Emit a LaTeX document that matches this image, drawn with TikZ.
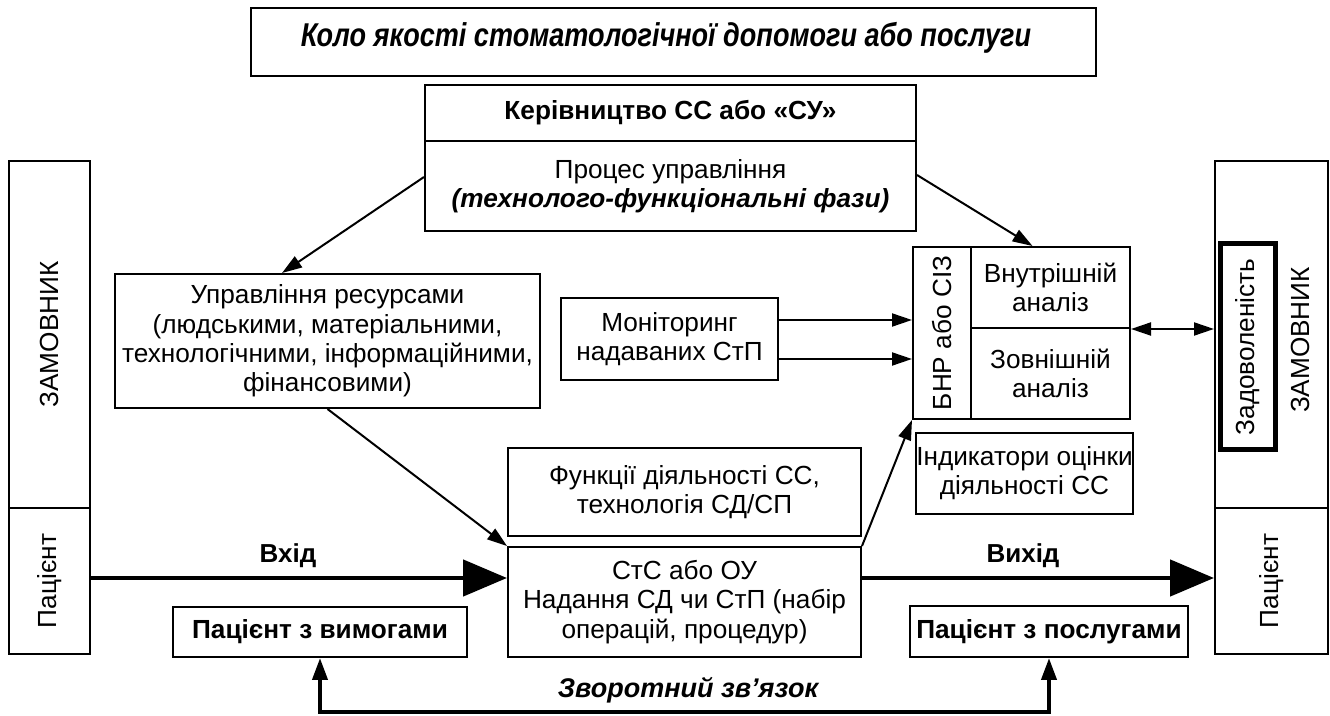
\documentclass[tikz,border=0pt]{standalone}
\usepackage{fontspec}
\setmainfont{Liberation Sans}
\newfontfamily\narrowfont[FakeStretch=0.82]{Liberation Sans}
\usetikzlibrary{arrows.meta}
\begin{document}
\begin{tikzpicture}[x=0.5pt,y=-0.5pt,
  box/.style={draw, line width=1pt, inner sep=0pt, align=center,
    font=\fontsize{13.1}{14.6}\selectfont},
  thickbox/.style={box, line width=2.5pt},
  lbl/.style={inner sep=0pt, align=center, font=\fontsize{13.1}{14.6}\selectfont},
  thinarrow/.style={line width=1pt, -{Triangle[length=10pt,width=6.5pt]}},
  twoarrow/.style={line width=1pt, {Triangle[length=10pt,width=6.5pt]}-{Triangle[length=10pt,width=6.5pt]}},
  bigarrow/.style={line width=2.4pt, -{Triangle[length=22pt,width=18pt]}},
  fbarrow/.style={line width=2pt, {Triangle[length=11pt,width=7.5pt]}-{Triangle[length=11pt,width=7.5pt]}}
]
\useasboundingbox (0,0) rectangle (1330,716);

% title
\node[box, minimum width=422.5pt, minimum height=34pt] (title) at (673.5,42) {};
\node[lbl, font=\fontsize{16.5}{18}\selectfont\narrowfont\bfseries\itshape] (titleText) at (666,38)
  {Коло якості стоматологічної допомоги або послуги};

% management
\node[box, minimum width=245.5pt, minimum height=28pt] (mgTop) at (670.5,113)
  {\bfseries Керівництво СС або «СУ»};
\node[box, minimum width=245.5pt, minimum height=45pt] (mgBot) at (670.5,186)
  {Процес управління\\\bfseries\itshape (технолого-функціональні фази)};

% left customer
\node[box, minimum width=40.5pt, minimum height=173.5pt] (lZam) at (49.5,334.5)
  {\rotatebox{90}{ЗАМОВНИК}};
\node[box, minimum width=40.5pt, minimum height=73pt] (lPat) at (49.5,581)
  {\rotatebox{90}{Пацієнт}};

% right customer
\node[box, minimum width=56.5pt, minimum height=173.5pt] (rZam) at (1271.5,334.5) {};
\node[lbl] (rZamText) at (1300,340) {\rotatebox{90}{ЗАМОВНИК}};
\node[box, minimum width=56.5pt, minimum height=73pt] (rPat) at (1271.5,581)
  {\rotatebox{90}{Пацієнт}};
\node[thickbox, minimum width=27.5pt, minimum height=103pt] (zad) at (1247.5,347)
  {\rotatebox{90}{Задоволеність}};

% resources
\node[box, minimum width=212.5pt, minimum height=67pt] (res) at (327.5,341)
  {Управління ресурсами\\(людськими, матеріальними,\\технологічними, інформаційними,\\фінансовими)};

% monitoring
\node[box, minimum width=108.5pt, minimum height=41pt] (mon) at (669.5,339)
  {Моніторинг\\надаваних СтП};

% BNR block
\node[box, minimum width=29pt, minimum height=86pt] (bnr) at (942,333)
  {\rotatebox{90}{БНР або СІЗ}};
\node[box, minimum width=79.5pt, minimum height=40.5pt] (vnu) at (1050.5,287.5)
  {Внутрішній\\аналіз};
\node[box, minimum width=79.5pt, minimum height=45.5pt] (zov) at (1050.5,373.5)
  {Зовнішній\\аналіз};

% indicators
\node[box, minimum width=108.5pt, minimum height=40.5pt] (ind) at (1024.5,473.5)
  {Індикатори оцінки\\діяльності СС};

% functions and service
\node[box, minimum width=176.5pt, minimum height=44pt] (fun) at (684.5,492)
  {Функції діяльності СС,\\технологія СД/СП};
\node[box, minimum width=176.5pt, minimum height=55pt] (sts) at (684.5,602)
  {СтС або ОУ\\Надання СД чи СтП (набір\\операцій, процедур)};

% patients
\node[box, minimum width=147pt, minimum height=25pt] (patV) at (320,632)
  {\bfseries Пацієнт з вимогами};
\node[box, minimum width=139pt, minimum height=25.5pt] (patP) at (1049,631.5)
  {\bfseries Пацієнт з послугами};

% labels
\node[lbl, font=\fontsize{13}{15}\selectfont\bfseries] (vxid) at (288,556) {Вхід};
\node[lbl, font=\fontsize{13}{15}\selectfont\bfseries] (vyxid) at (1023,556) {Вихід};
\node[lbl, font=\fontsize{13.5}{15}\selectfont\bfseries\itshape] (fbl) at (688,690) {Зворотний зв’язок};

% connectors
\draw[thinarrow] ([yshift=4.5pt]mgBot.west) -- ([xshift=-22.75pt]res.north);
\draw[thinarrow] ([yshift=5.5pt]mgBot.east) -- ([xshift=-9pt]vnu.north);
\draw[thinarrow] (res.south) -- (sts.north west);
\draw[thinarrow] (sts.north east) -- (bnr.south west);
\draw[thinarrow] ([yshift=9.5pt]mon.east) -- ([yshift=9.5pt]mon.east -| bnr.west);
\draw[thinarrow] ([yshift=-10pt]mon.east) -- ([yshift=-10pt]mon.east -| bnr.west);
\draw[twoarrow] (vnu.south east) -- (vnu.south east -| rZam.west);

\coordinate (io) at (0,578);
\draw[bigarrow] (lPat.east |- io) -- (sts.west |- io);
\draw[bigarrow] (sts.east |- io) -- (rPat.west |- io);

\coordinate (fb) at (0,712);
\draw[fbarrow] (patV.south) -- (patV.south |- fb) -- (patP.south |- fb) -- (patP.south);
\end{tikzpicture}
\end{document}
